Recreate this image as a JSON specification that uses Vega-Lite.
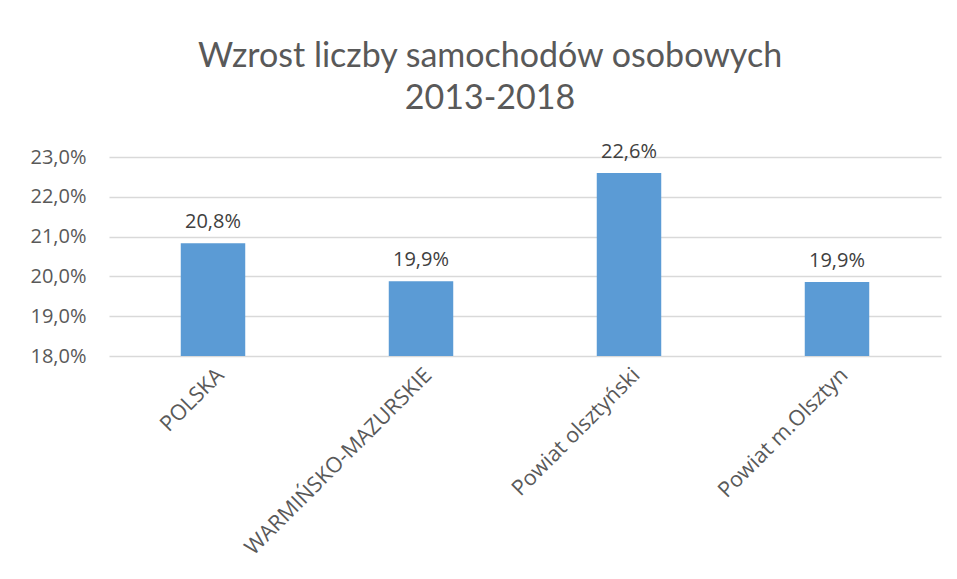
{
  "$schema": "https://vega.github.io/schema/vega-lite/v6.json",
  "autosize": {"type": "none"},
  "padding": {"left": 109, "top": 157, "right": 16, "bottom": 223},
  "width": 832,
  "height": 199,
  "background": "white",
  "title": {
    "text": ["Wzrost liczby samochodów osobowych", "2013-2018"],
    "font": "Lato",
    "fontSize": 34,
    "fontWeight": "normal",
    "color": "#595959",
    "anchor": "middle",
    "frame": "group",
    "dx": -35,
    "lineHeight": 42,
    "offset": 26
  },
  "config": {
    "locale": {"number": {"decimal": ",", "thousands": " ", "grouping": [3], "currency": ["", " zł"]}},
    "view": {"stroke": null},
    "axis": {"labelFont": "Open Sans", "labelColor": "#595959", "labelFontSize": 20}
  },
  "data": {
    "values": [
      {"region": "POLSKA", "value": 0.2083},
      {"region": "WARMIŃSKO-MAZURSKIE", "value": 0.1988},
      {"region": "Powiat olsztyński", "value": 0.226},
      {"region": "Powiat m.Olsztyn", "value": 0.1986}
    ]
  },
  "encoding": {
    "x": {
      "field": "region",
      "type": "nominal",
      "sort": null,
      "scale": {"paddingInner": 0.69, "paddingOuter": 0.345},
      "axis": {
        "title": null,
        "labelAngle": -45,
        "labelPadding": 8,
        "labelFontSize": 21.5,
        "ticks": false,
        "domain": false,
        "labelLimit": 400,
        "labelOverlap": false
      }
    },
    "y": {
      "field": "value",
      "type": "quantitative",
      "scale": {"domain": [0.18, 0.23], "zero": false, "clamp": true},
      "axis": {
        "title": null,
        "format": ".1%",
        "values": [0.18, 0.19, 0.2, 0.21, 0.22, 0.23],
        "ticks": false,
        "domain": false,
        "gridColor": "#d9d9d9",
        "gridWidth": 1.3,
        "labelPadding": 23,
        "labelOverlap": false
      }
    }
  },
  "layer": [
    {
      "mark": {"type": "bar", "color": "#5b9bd5"},
      "encoding": {"y2": {"datum": 0.18}}
    },
    {
      "mark": {"type": "text", "baseline": "bottom", "dy": -11, "font": "Open Sans", "fontSize": 20, "color": "#404040"},
      "encoding": {"text": {"field": "value", "type": "quantitative", "format": ".1%"}}
    }
  ]
}
